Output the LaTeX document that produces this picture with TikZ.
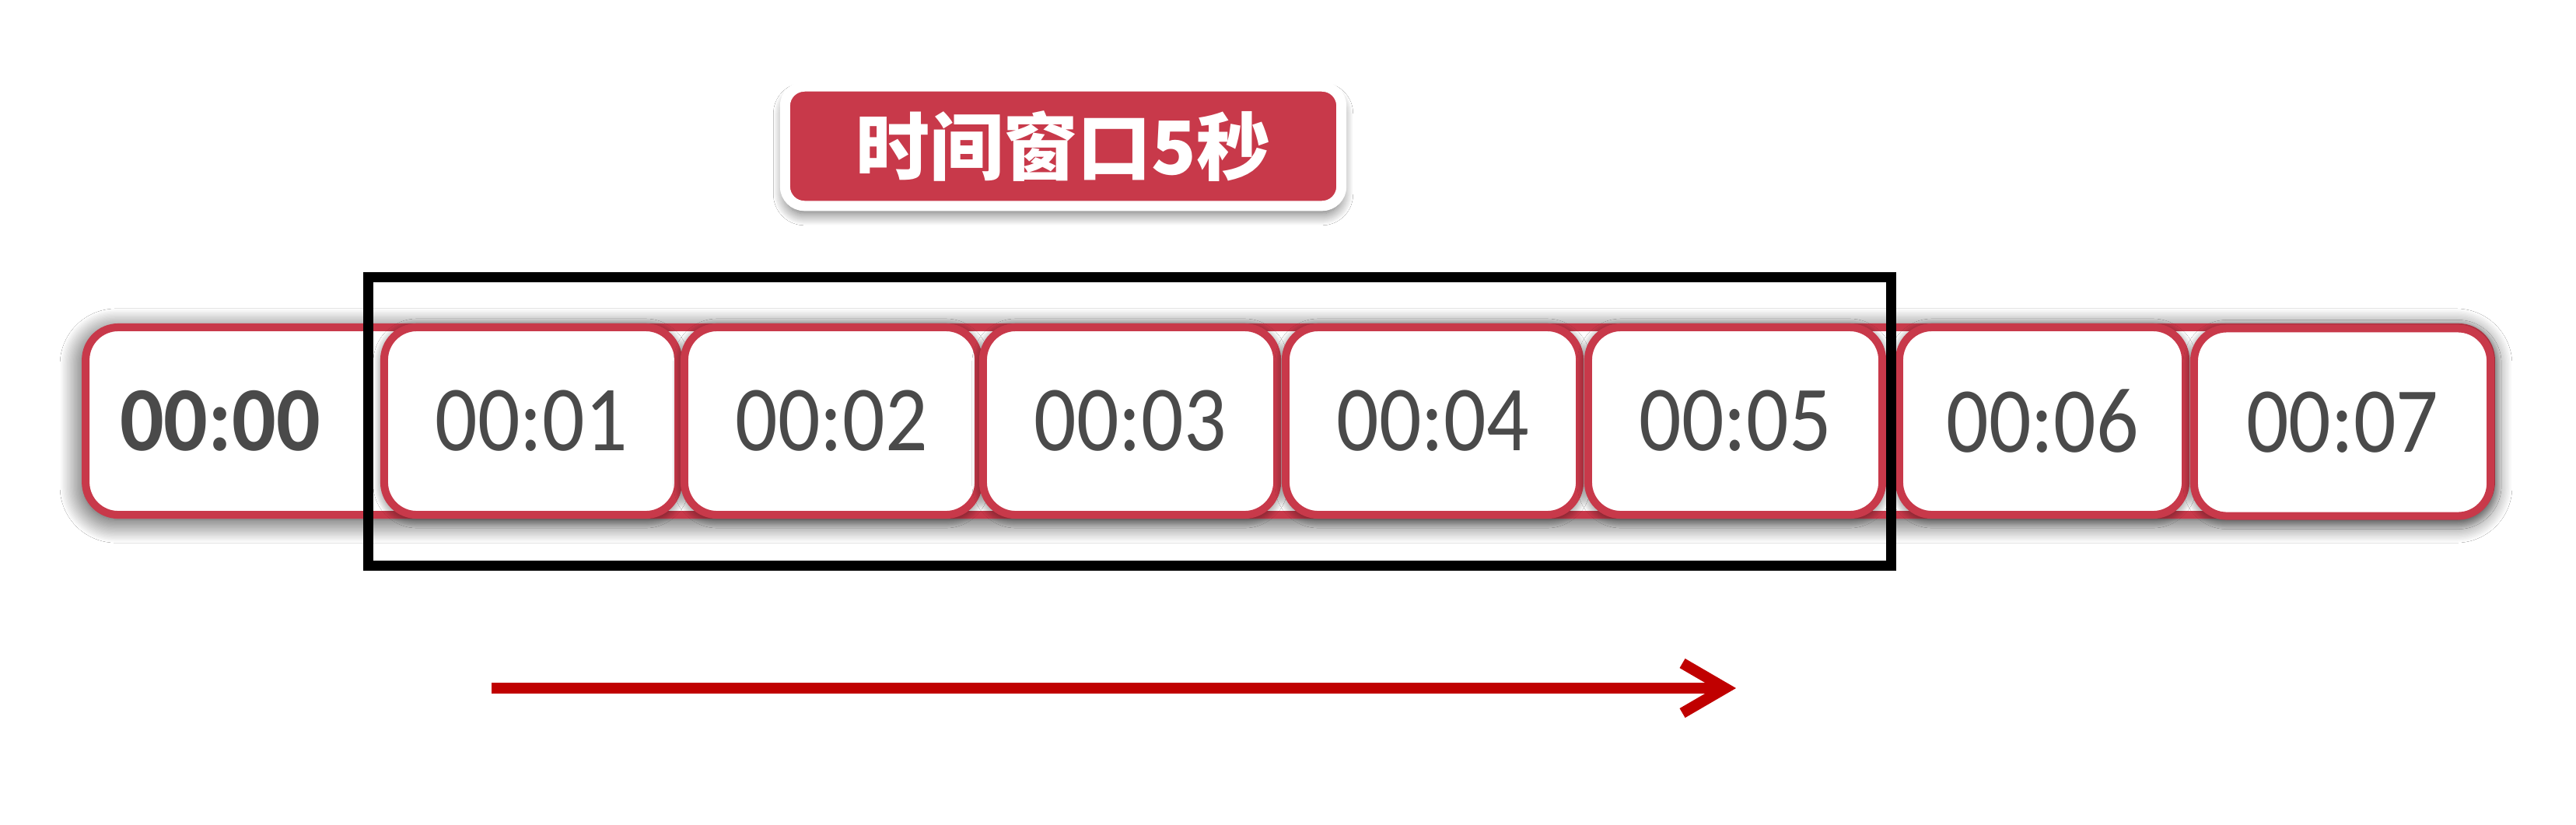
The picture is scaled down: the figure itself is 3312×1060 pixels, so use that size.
\documentclass[tikz,border=0pt]{standalone}
\usepackage{fontspec}
\setmainfont{Carlito}
\newfontfamily\cjk{Noto Sans CJK SC}
\newfontfamily\digreg[FakeStretch=0.9]{Carlito}
\newfontfamily\digbold[FakeStretch=0.95]{Carlito}
\usetikzlibrary{arrows.meta,shadows.blur}
\definecolor{boxred}{RGB}{200,57,74}
\definecolor{arrred}{RGB}{192,0,0}
\definecolor{txtgray}{RGB}{74,74,74}
\begin{document}
\begin{tikzpicture}[x=0.01cm,y=-0.01cm,
  band/.style={draw=boxred, line width=0.1cm, fill=white, rounded corners=0.42cm,
    minimum width=30.91cm, minimum height=2.41cm, inner sep=0pt,
    blur shadow={shadow xshift=-0.03cm, shadow yshift=-0.06cm, shadow blur radius=0.3cm, shadow blur steps=24, shadow opacity=85}},
  tbox/.style={draw=boxred, line width=0.1cm, fill=white, rounded corners=0.42cm,
    minimum width=3.78cm, minimum height=2.41cm, inner sep=0pt, text=txtgray,
    font=\digreg\fontsize{34}{38}\selectfont,
    blur shadow={shadow xshift=0cm, shadow yshift=-0.03cm, shadow blur radius=0.14cm, shadow blur steps=16, shadow opacity=70}},
  firsttext/.style={text=txtgray, inner sep=0pt, font=\digbold\bfseries\fontsize{33.5}{37}\selectfont},
  window/.style={draw=black, line width=0.13cm, minimum width=19.565cm, minimum height=3.705cm, inner sep=0pt},
  titlebox/.style={fill=boxred, draw=white, line width=0.13cm, rounded corners=0.25cm,
    minimum width=7.15cm, minimum height=1.535cm, inner sep=0pt, text=white,
    font=\cjk\bfseries\fontsize{27}{30}\selectfont,
    blur shadow={shadow xshift=0cm, shadow yshift=-0.1cm, shadow blur radius=0.15cm, shadow blur steps=16, shadow opacity=60}},
  flow/.style={draw=arrred, line width=0.14cm, -{Straight Barb[length=0.55cm,width=0.64cm]}}
]
\useasboundingbox (0,0) rectangle (3312,1060);
\fill[white] (0,0) rectangle (3312,1060);

\node[band] (row) at (1656.5,541.5) {};
\node[firsttext] (b0) at (283,541) {00:00};
\node[tbox] (b1) at (683,541.5) {00:01};
\node[tbox] (b2) at (1069,541.5) {00:02};
\node[tbox] (b3) at (1453,541.5) {00:03};
\node[tbox] (b4) at (1842,541.5) {00:04};
\node[tbox] (b5) at (2231,541.5) {00:05};
\node[tbox, minimum width=3.68cm] (b6) at (2626,541.5) {00:06};
\node[tbox, minimum width=3.81cm] (b7) at (3011.5,543) {00:07};

\node[window] (win) at (1452.75,541.75) {};

\node[titlebox] (title) at (1367,188) {时间窗口5秒};

\coordinate (a0) at (632,885);
\coordinate (a1) at (2232,885);
\draw[flow] (a0) -- (a1);
\end{tikzpicture}
\end{document}
